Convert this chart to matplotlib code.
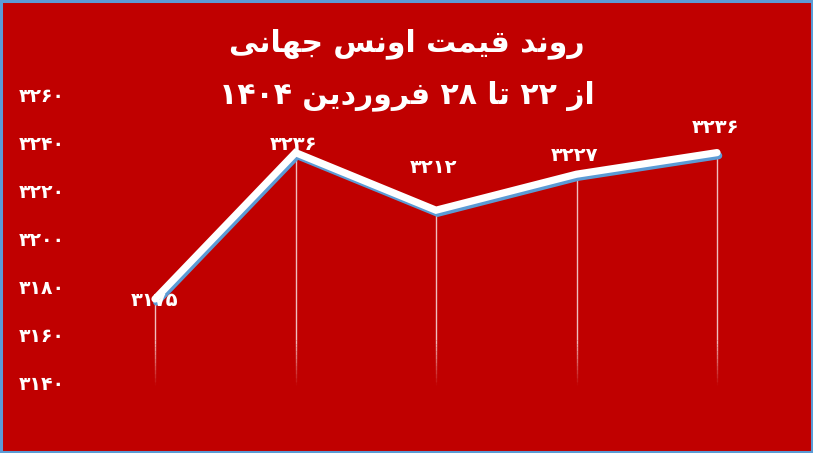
import matplotlib
matplotlib.use("Agg")
import matplotlib.pyplot as plt
import matplotlib.patches as mpatches
import matplotlib.patheffects as pe
from matplotlib.collections import LineCollection

# --- Data -------------------------------------------------------------------
days = ["۲۲", "۲۳", "۲۴", "۲۷", "۲۸"]          # category slots (unlabeled on axis)
prices = [3175, 3236, 3212, 3227, 3236]
y_ticks = [3140, 3160, 3180, 3200, 3220, 3240, 3260]
title_1 = "روند قیمت اونس جهانی"
title_2 = "از ۲۲ تا ۲۸ فروردین ۱۴۰۴"

# label nudges in pixels (dx, dy) relative to each point
label_nudge = [(0, -1), (-2, 8), (-2, 43), (-2, 19), (-1, 25)]

BG = "#C00000"
BLUE = "#5B9BD5"

# --- Minimal Persian shaping (matplotlib has no bidi / joining) --------------
FORMS = {
    "ا": ("\uFE8D", "\uFE8E", None, None),
    "د": ("\uFEA9", "\uFEAA", None, None),
    "ر": ("\uFEAD", "\uFEAE", None, None),
    "ز": ("\uFEAF", "\uFEB0", None, None),
    "و": ("\uFEED", "\uFEEE", None, None),
    "ن": ("\uFEE5", "\uFEE6", "\uFEE7", "\uFEE8"),
    "ق": ("\uFED5", "\uFED6", "\uFED7", "\uFED8"),
    "ی": ("\uFBFC", "\uFBFD", "\uFBFE", "\uFBFF"),
    "م": ("\uFEE1", "\uFEE2", "\uFEE3", "\uFEE4"),
    "ت": ("\uFE95", "\uFE96", "\uFE97", "\uFE98"),
    "س": ("\uFEB1", "\uFEB2", "\uFEB3", "\uFEB4"),
    "ج": ("\uFE9D", "\uFE9E", "\uFE9F", "\uFEA0"),
    "ه": ("\uFEE9", "\uFEEA", "\uFEEB", "\uFEEC"),
    "ف": ("\uFED1", "\uFED2", "\uFED3", "\uFED4"),
}


def shape_word(word):
    out = []
    n = len(word)
    for i, ch in enumerate(word):
        f = FORMS.get(ch)
        if f is None:
            out.append(ch)
            continue
        prev = FORMS.get(word[i - 1]) if i > 0 else None
        nxt = FORMS.get(word[i + 1]) if i < n - 1 else None
        jp = prev is not None and prev[2] is not None
        jn = nxt is not None and f[2] is not None
        if jp and jn:
            out.append(f[3])
        elif jp:
            out.append(f[1])
        elif jn:
            out.append(f[2])
        else:
            out.append(f[0])
    return "".join(reversed(out))


def rtl(text):
    words = text.split(" ")
    vis = []
    for w in reversed(words):
        if any(c in FORMS for c in w):
            vis.append(shape_word(w))
        else:
            vis.append(w)
    return " ".join(vis)


FA_DIGITS = str.maketrans("0123456789", "۰۱۲۳۴۵۶۷۸۹")


def fa(num):
    return str(num).translate(FA_DIGITS)


# --- Figure -----------------------------------------------------------------
W, H = 813, 453
fig = plt.figure(figsize=(W / 100, H / 100), dpi=100, facecolor=BG)
fig.patches.append(mpatches.Rectangle((0.0012, 0.002), 0.9976, 0.996,
                                      transform=fig.transFigure, fill=False,
                                      edgecolor=BLUE, linewidth=2.2))

# axes box spans from first to last category, 3140..3260
ax = fig.add_axes([155 / W, (H - 383) / H, 562 / W, 288 / H])
ax.set_facecolor("none")
x = list(range(len(prices)))
ax.set_xlim(0, len(prices) - 1)
ax.set_ylim(y_ticks[0], y_ticks[-1])
for s in ax.spines.values():
    s.set_visible(False)
ax.set_xticks([])
ax.set_yticks(y_ticks)
ax.set_yticklabels([fa(v) for v in y_ticks])
ax.tick_params(axis="y", length=0, pad=65, labelcolor="white", labelsize=13.5)
for t in ax.get_yticklabels():
    t.set_fontweight("bold")

# drop lines, fading out toward the bottom
ybot = y_ticks[0] - 1
fade_top = y_ticks[0] + 18
segs, cols = [], []
for xi, p in zip(x, prices):
    segs.append([(xi, p), (xi, fade_top)])
    cols.append((1, 1, 1, 0.75))
    steps = 12
    for k in range(steps):
        y0 = fade_top - (fade_top - ybot) * k / steps
        y1 = fade_top - (fade_top - ybot) * (k + 1) / steps
        segs.append([(xi, y0), (xi, y1)])
        cols.append((1, 1, 1, 0.75 * (1 - (k + 0.5) / steps)))
ax.add_collection(LineCollection(segs, colors=cols, linewidths=1.0,
                                 clip_on=False, zorder=1))

# main line with a blue offset shadow
ax.plot(x, prices, color="white", linewidth=5.2, solid_capstyle="round",
        solid_joinstyle="miter", clip_on=False, zorder=3,
        path_effects=[pe.SimpleLineShadow(offset=(1.2, -2.2),
                                          shadow_color=BLUE, alpha=1.0),
                      pe.Normal()])

# data labels
for xi, p, (dx, dy) in zip(x, prices, label_nudge):
    ax.annotate(fa(p), (xi, p), xytext=(dx * 0.72, dy * 0.72),
                textcoords="offset points", ha="center", va="center",
                color="white", fontsize=14, fontweight="bold",
                annotation_clip=False, zorder=4)

# title
fig.text(407 / W, 1 - 44 / H, rtl(title_1), ha="center", va="center",
         color="white", fontsize=21.5, fontweight="bold")
fig.text(407 / W, 1 - 96 / H, rtl(title_2), ha="center", va="center",
         color="white", fontsize=21.5, fontweight="bold")

fig.savefig("out.png", dpi=100, facecolor=BG)
